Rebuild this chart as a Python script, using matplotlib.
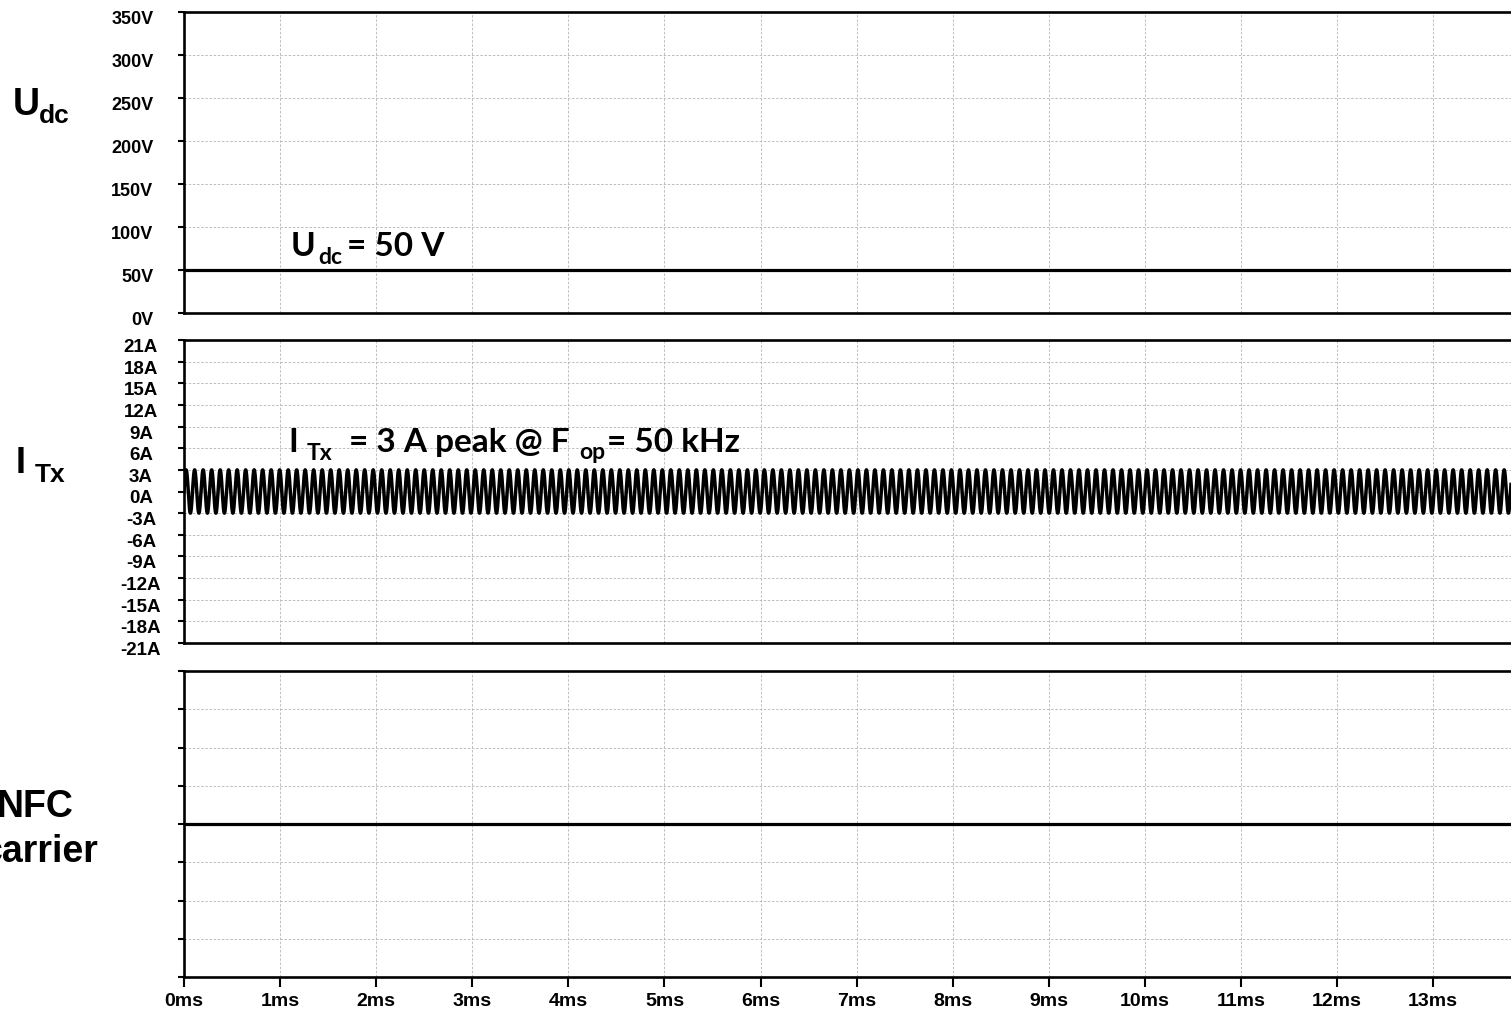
import numpy as np
import matplotlib
matplotlib.use("Agg")
import matplotlib.pyplot as plt
from matplotlib.transforms import ScaledTranslation

# ---------------- data ----------------
time_end_ms = 13.81
x_ticks_ms = list(range(0, 14))
x_tick_labels = [f"{v}ms" for v in x_ticks_ms]

udc_level = 50
udc_ticks = list(range(0, 351, 50))
udc_tick_labels = [f"{v}V" for v in udc_ticks]

itx_amplitude = 3
itx_cycles_per_ms = 11.3   # apparent (displayed) oscillation rate
itx_ticks = list(range(-21, 22, 3))
itx_tick_labels = [f"{v}A" for v in itx_ticks]

nfc_level = 0
nfc_ticks = list(range(-4, 5))

# ---------------- figure ----------------
W, H = 1511, 1012
fig = plt.figure(figsize=(W / 100, H / 100), dpi=100)

def ax_rect(top_px, bottom_px):
    left = 184 / W
    return [left, 1 - bottom_px / H, 1.0 - left, (bottom_px - top_px) / H]

ax1 = fig.add_axes(ax_rect(13, 314))
ax2 = fig.add_axes(ax_rect(341, 644))
ax3 = fig.add_axes(ax_rect(672, 978))

down = ScaledTranslation(0, -4.5 / 100, fig.dpi_scale_trans)

for ax in (ax1, ax2, ax3):
    ax.set_xlim(0, time_end_ms)
    ax.set_xticks(x_ticks_ms)
    ax.grid(True, color="#b4b4b4", linestyle=(0, (3, 2)), linewidth=0.6)
    ax.set_axisbelow(True)
    ax.spines["right"].set_visible(False)
    for s in ("left", "top", "bottom"):
        ax.spines[s].set_linewidth(1.9)
    ax.tick_params(axis="y", direction="out", length=4.5, width=1.5, left=True)
    ax.tick_params(axis="x", direction="out", length=7, width=1.5)

# top panel: Udc
ax1.set_ylim(0, 350)
ax1.set_yticks(udc_ticks)
ax1.set_yticklabels(udc_tick_labels, family="Liberation Sans", weight="bold", size=13)
ax1.tick_params(axis="y", pad=17.5)
ax1.axhline(udc_level, color="black", linewidth=2.3)
ax1.tick_params(axis="x", bottom=False, labelbottom=False)

# middle panel: I_Tx
t = np.linspace(0, time_end_ms, 40000)
i_tx = itx_amplitude * np.sin(2 * np.pi * itx_cycles_per_ms * t)
ax2.plot(t, i_tx, color="black", linewidth=2.5)
ax2.set_ylim(itx_ticks[0], itx_ticks[-1])
ax2.set_yticks(itx_ticks)
ax2.set_yticklabels(itx_tick_labels, family="Liberation Sans", weight="bold", size=13.5)
for lab in ax2.get_yticklabels():
    lab.set_horizontalalignment("center")
ax2.tick_params(axis="y", pad=26.5)
ax2.tick_params(axis="x", bottom=False, labelbottom=False)

# bottom panel: NFC carrier
ax3.set_ylim(nfc_ticks[0], nfc_ticks[-1])
ax3.set_yticks(nfc_ticks)
ax3.set_yticklabels([])
ax3.axhline(nfc_level, color="black", linewidth=2.3)
ax3.set_xticklabels(x_tick_labels, family="Liberation Sans", weight="bold", size=14)
ax3.tick_params(axis="x", pad=4)

for ax in (ax1, ax2):
    for lab in ax.get_yticklabels():
        lab.set_transform(lab.get_transform() + down)

# ---------------- text ----------------
def ftext(x_px, y_px, s, size, family="Liberation Sans", ha="left"):
    fig.text(x_px / W, 1 - y_px / H, s, fontsize=size, fontweight="bold",
             family=family, ha=ha, va="baseline")

# left panel labels (Arial-like)
ftext(13, 115, "U", 27)
ftext(39, 123, "dc", 19)
ftext(16, 473, "I", 26)
ftext(35, 482, "Tx", 19)
ftext(73, 817, "NFC", 27, ha="right")
ftext(98, 862, "carrier", 27, ha="right")

# annotations (Calibri-like)
ann = "Lato"
ftext(291, 256, "U", 24, family=ann)
ftext(318, 264, "dc", 16.5, family=ann)
ftext(347, 256, "= 50 V", 24, family=ann)

ftext(288, 452, "I", 24, family=ann)
ftext(307, 460, "Tx", 16.5, family=ann)
ftext(349, 452, "= 3 A peak @ F", 24, family=ann)
ftext(579, 459, "op", 16.5, family=ann)
ftext(607, 452, "= 50 kHz", 24, family=ann)

fig.savefig("out.png", dpi=100)
